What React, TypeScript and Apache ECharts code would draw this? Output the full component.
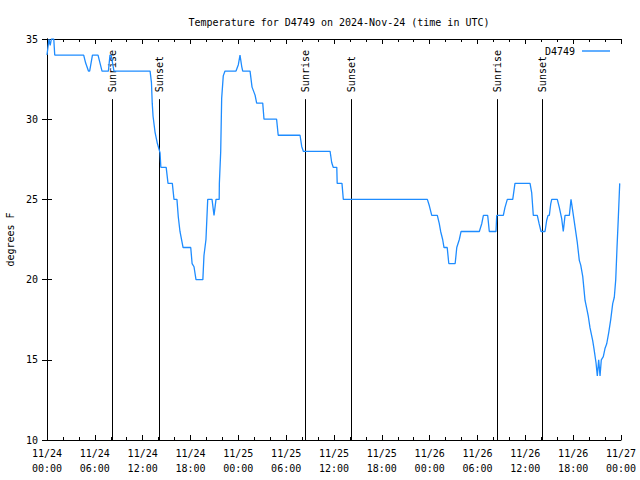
import React, { useEffect, useRef } from "react";
import * as echarts from "echarts";

// Hours since 2024-11-24 00:00 UTC
const hours = [
  0, 0.25, 0.4, 0.55, 0.85, 0.97, 4.6, 4.85, 5.2, 5.35, 5.7, 6.4, 6.9, 7.7, 7.9, 8.05, 8.4,
  12.93, 13.1, 13.2, 13.3, 13.55, 13.84, 14.18, 14.28, 14.95, 15.18, 15.72, 15.93, 16.3, 16.47,
  16.68, 17.07, 18.03, 18.2, 18.44, 18.69, 19.55, 19.69, 19.94, 20.16, 20.7, 20.95, 21.2, 21.6,
  21.62, 21.79, 21.91, 22.11, 22.33, 23.71, 24.0, 24.21, 24.42, 24.55, 25.47, 25.72, 26.1, 26.3,
  27.06, 27.22, 28.8, 29.0, 31.74, 31.95, 32.15, 35.51, 35.71, 35.9, 36.35, 36.4, 37.0, 37.17,
  47.71, 47.96, 48.26, 48.96, 49.2, 49.38, 49.63, 49.8, 50.2, 50.4, 51.2, 51.4, 51.72, 51.94,
  54.23, 54.54, 54.74, 55.28, 55.48, 56.32, 56.41, 57.24, 57.45, 57.74, 58.42, 58.7, 60.59,
  60.8, 61.0, 61.21, 61.5, 61.72, 61.97, 62.47, 62.68, 62.85, 63.01, 63.18, 63.31, 64.01, 64.26,
  64.56, 64.76, 64.98, 65.52, 65.73, 65.94, 66.23, 66.52, 66.77, 66.95, 67.2, 67.49, 67.7, 67.9,
  68.11, 68.45, 68.61, 68.87, 69.03, 69.2, 69.37, 69.53, 69.78, 69.99, 70.21, 70.46, 70.71,
  70.96, 71.16, 71.34, 71.5, 71.66, 71.79, 71.84,
];

const tempsF = [
  34, 35, 34.6, 35, 35, 34, 34, 33.5, 33, 33, 34, 34, 33, 33, 34, 34, 33,
  33, 32.3, 31, 30.2, 29.2, 28.5, 27.9, 27, 27, 26, 26, 25, 25, 23.9,
  23, 22, 22, 21, 20.8, 20, 20, 21.5, 22.5, 25, 25, 24, 25, 25,
  26, 28, 31.3, 32.7, 33, 33, 33.4, 34, 33.3, 33, 33, 32, 31.5, 31,
  31, 30, 30, 29, 29, 28.3, 28, 28, 27.3, 27, 27, 26, 26, 25,
  25, 24.6, 24, 24, 23.5, 23, 22.5, 22, 22, 21, 21, 22, 22.5, 23,
  23, 23.5, 24, 24, 23, 23, 24, 24, 24.5, 25, 25, 26, 26,
  25.4, 24, 24, 24, 23.5, 23, 23, 23.7, 24, 24, 24.7, 25, 25, 24.5,
  23.8, 23, 24, 24, 25, 24.3, 23.3, 22.3, 21.2, 20.9, 20.2, 18.7, 18.2, 17.7,
  17, 16.2, 15.7, 14.8, 14, 15, 14, 15, 15.2, 15.7, 16, 16.7, 17.5,
  18.5, 18.9, 20, 22, 23.8, 25.4, 26,
];

const eventHours = [8.15, 14.05, 32.3, 38.15, 56.4, 62.15];
const eventNames = ["Sunrise", "Sunset", "Sunrise", "Sunset", "Sunrise", "Sunset"];
const eventLineTop = 31.25;

const xTickLabels = [
  "11/24\n00:00", "11/24\n06:00", "11/24\n12:00", "11/24\n18:00",
  "11/25\n00:00", "11/25\n06:00", "11/25\n12:00", "11/25\n18:00",
  "11/26\n00:00", "11/26\n06:00", "11/26\n12:00", "11/26\n18:00",
  "11/27\n00:00",
];

const FONT = "DejaVu Sans Mono";

export default function App() {
  const ref = useRef<HTMLDivElement>(null);
  useEffect(() => {
    if (!ref.current) return;
    const chart = echarts.init(ref.current, null, { renderer: "svg" });
    const axisLine = { show: true, lineStyle: { color: "#000", width: 1 } };
    chart.setOption({
      animation: false,
      backgroundColor: "#fff",
      title: {
        text: "Temperature for D4749 on 2024-Nov-24 (time in UTC)",
        left: 334,
        top: 12,
        textAlign: "center",
        textStyle: { fontFamily: FONT, fontSize: 10, fontWeight: "normal", color: "#000" },
      },
      legend: {
        data: [{ name: "D4749", icon: "rect" }],
        right: 25,
        top: 41,
        align: "right",
        itemWidth: 28,
        itemHeight: 1.4,
        itemGap: 6,
        textStyle: { fontFamily: FONT, fontSize: 10, color: "#000", padding: [0, 2, 0, 0] },
      },
      grid: {
        left: 47,
        right: 19,
        top: 39,
        bottom: 40,
        containLabel: false,
        outerBoundsMode: "none",
      },
      xAxis: [
        {
          type: "value",
          min: 0,
          max: 72,
          interval: 6,
          axisLine,
          axisTick: { inside: true, length: 5, lineStyle: { color: "#000" } },
          minorTick: { show: true, splitNumber: 3, length: 3, lineStyle: { color: "#000" } },
          splitLine: { show: false },
          axisLabel: {
            fontFamily: FONT,
            fontSize: 10,
            color: "#000",
            lineHeight: 15,
            margin: 6,
            formatter: (v: number) => xTickLabels[Math.round(v / 6)] ?? "",
          },
        },
        {
          type: "value",
          position: "top",
          min: 0,
          max: 72,
          interval: 6,
          axisLine,
          axisTick: { inside: true, length: 5, lineStyle: { color: "#000" } },
          minorTick: { show: true, splitNumber: 3, length: 3, lineStyle: { color: "#000" } },
          splitLine: { show: false },
          axisLabel: { show: false },
        },
      ],
      yAxis: [
        {
          type: "value",
          min: 10,
          max: 35,
          interval: 5,
          name: "degrees F",
          nameLocation: "middle",
          nameGap: 32,
          nameTextStyle: { fontFamily: FONT, fontSize: 10, color: "#000" },
          axisLine,
          axisTick: { inside: true, length: 5, lineStyle: { color: "#000" } },
          splitLine: { show: false },
          axisLabel: { fontFamily: FONT, fontSize: 10, color: "#000", margin: 9 },
        },
        {
          type: "value",
          position: "right",
          min: 10,
          max: 35,
          interval: 5,
          axisLine,
          axisTick: { inside: true, length: 5, lineStyle: { color: "#000" } },
          splitLine: { show: false },
          axisLabel: { show: false },
        },
      ],
      series: [
        {
          type: "custom",
          name: "events",
          xAxisIndex: 0,
          yAxisIndex: 0,
          silent: true,
          data: eventHours.map((h, i) => [h, i]),
          renderItem: (params: any, api: any) => {
            const h = api.value(0);
            const top = api.coord([h, eventLineTop]);
            const bot = api.coord([h, 10]);
            const x = Math.round(top[0]) + 0.5;
            return {
              type: "group",
              children: [
                {
                  type: "line",
                  shape: { x1: x, y1: top[1], x2: x, y2: bot[1] },
                  style: { stroke: "#000", lineWidth: 1 },
                },
                {
                  type: "text",
                  x: x,
                  y: top[1] - 7,
                  rotation: Math.PI / 2,
                  style: {
                    text: eventNames[params.dataIndex],
                    font: `10px "${FONT}"`,
                    fill: "#000",
                    align: "left",
                    verticalAlign: "middle",
                  },
                },
              ],
            };
          },
        },
        {
          type: "line",
          name: "D4749",
          xAxisIndex: 0,
          yAxisIndex: 0,
          data: hours.map((h, i) => [h, tempsF[i]]),
          symbol: "none",
          showSymbol: false,
          clip: true,
          lineStyle: { color: "#1e8cff", width: 1.3 },
          itemStyle: { color: "#1e8cff" },
        },
      ],
    });
    return () => chart.dispose();
  }, []);
  return (
    <div
      ref={ref}
      style={{ position: "fixed", left: 0, top: 0, width: 640, height: 480 }}
    />
  );
}
